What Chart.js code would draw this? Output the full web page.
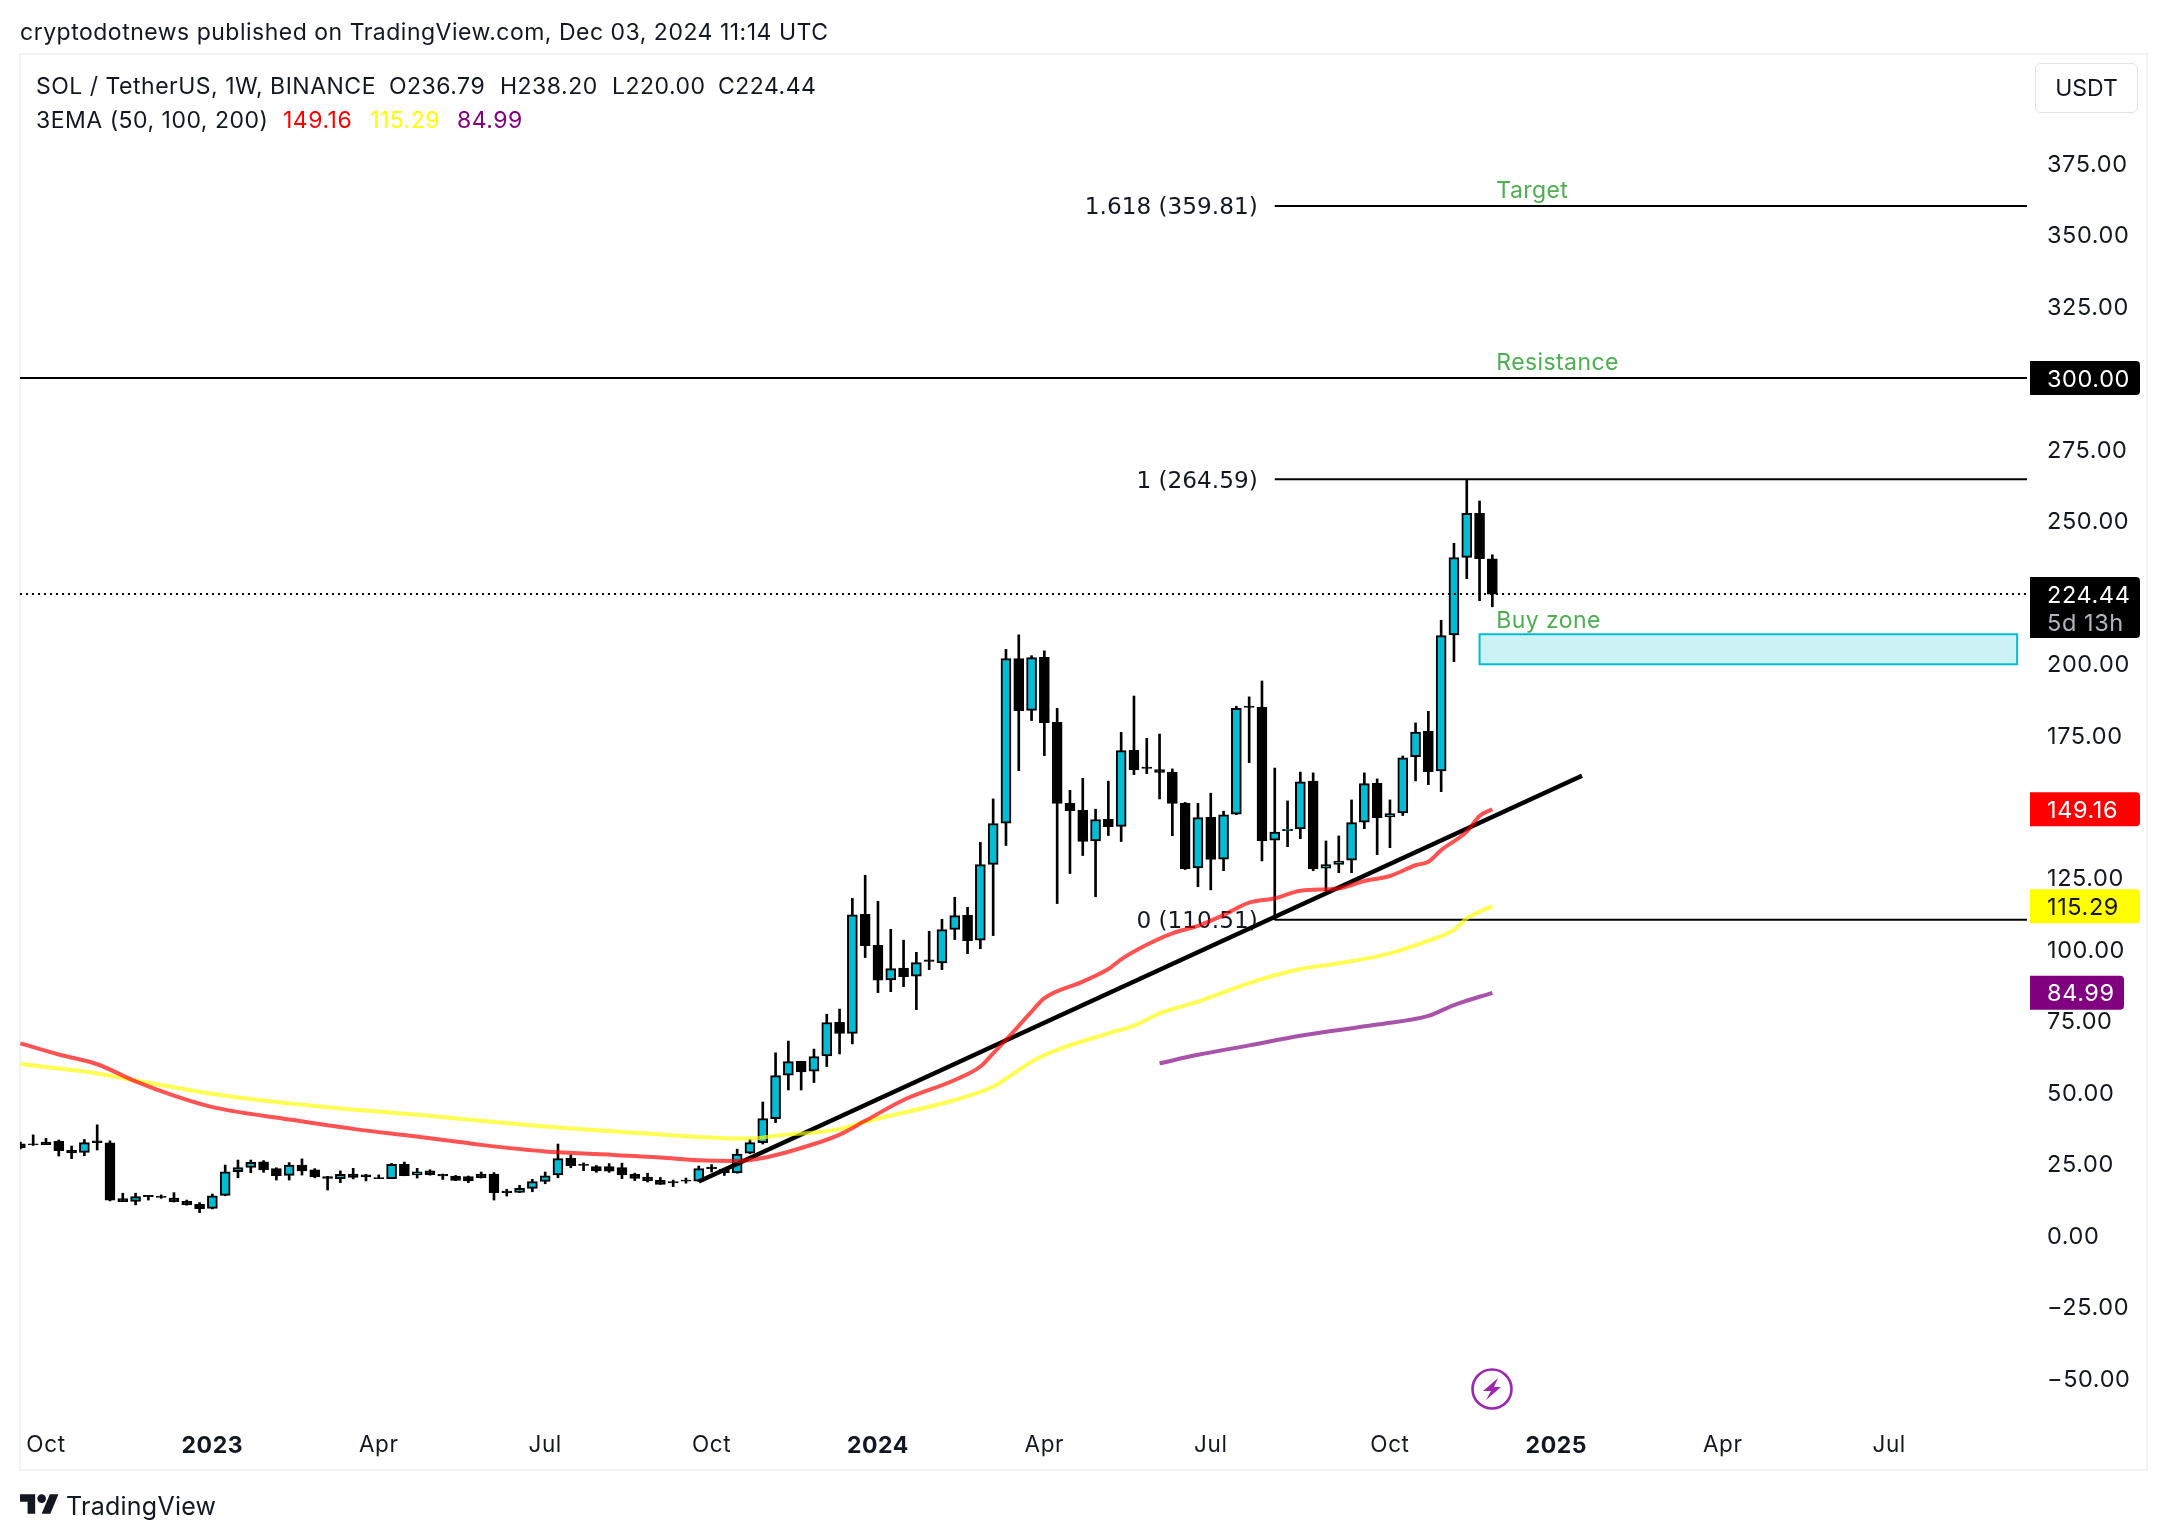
<!DOCTYPE html>
<html>
<head>
<meta charset="utf-8">
<title>SOL / TetherUS</title>
<script src="https://cdn.jsdelivr.net/npm/chart.js@4"></script>
<style>
  html, body { margin: 0; padding: 0; background: #fff; }
  #page { position: relative; width: 2168px; height: 1540px; overflow: hidden; font-family: Inter, sans-serif; color: #131722; }
  canvas { position: absolute; left: 0; top: 0; }
  .txt { position: absolute; font-size: 23px; line-height: 30px; white-space: nowrap; z-index: 2; letter-spacing: 0.5px; }
  #usdt { position: absolute; left: 2035px; top: 63px; width: 103px; height: 50px; border: 1px solid #e0e3eb; border-radius: 6px; box-sizing: border-box; text-align: center; line-height: 48px; font-size: 23px; z-index: 2; }
  svg { position: absolute; z-index: 2; }
</style>
</head>
<body>
<div id="page">
  <canvas id="sol-chart" width="2168" height="1540"></canvas>
  <div class="txt" style="left:20px;top:17px">cryptodotnews published on TradingView.com, Dec 03, 2024 11:14 UTC</div>
  <div class="txt" style="left:36px;top:71px">SOL / TetherUS, 1W, BINANCE</div>
  <div class="txt" style="left:389px;top:71px">O236.79</div>
  <div class="txt" style="left:500px;top:71px">H238.20</div>
  <div class="txt" style="left:612px;top:71px">L220.00</div>
  <div class="txt" style="left:718px;top:71px">C224.44</div>
  <div class="txt" style="left:36px;top:105px">3EMA (50, 100, 200)</div>
  <div class="txt" style="left:283px;top:105px;color:#ff0000">149.16</div>
  <div class="txt" style="left:370px;top:105px;color:#ffff00">115.29</div>
  <div class="txt" style="left:457px;top:105px;color:#800080">84.99</div>
  <div id="usdt">USDT</div>
  <svg style="left:1470px;top:1367px" width="44" height="44" viewBox="-22 -22 44 44">
    <circle cx="0" cy="0" r="19.5" fill="none" stroke="#9c27b0" stroke-width="2.6"/>
    <path d="M6 -11 L-9 2 L-1 2 L-6 11 L9 -2 L2 -2 Z" fill="#9c27b0"/>
  </svg>
  <svg style="left:20px;top:1494px" width="39" height="20" viewBox="0 4 36 18">
    <path d="M14 22H7V11H0V4h14v18zM28 22h-8l7.5-18h8L28 22z" fill="#131722"/>
    <circle cx="20" cy="8" r="4" fill="#131722"/>
  </svg>
  <div class="txt" style="left:66px;top:1491px;font-size:25px;letter-spacing:0.25px">TradingView</div>
</div>
<script>
document.addEventListener("DOMContentLoaded", function() {
  // weekly candles, index 0 = the partly cut one at the left edge
  var candleOpen = [32.2,32.2,32.8,33,29.9,29.2,33.2,32.5,13,12.05,14.15,13.8,13.2,12.05,11,9.6,14.15,22.4,23.9,25.9,23.5,21.15,24.75,23.1,20.7,20,21.6,21.3,20.4,20,25.1,21.3,22.7,21.5,20.9,20.7,21.6,21.6,15.65,15.2,16.6,19,21.3,27.2,25,24.2,24.2,23.85,21.5,20.5,19.4,18.95,19.5,19.1,24,23.3,22,28.9,32.6,41,56.2,61,57.6,62.9,74.7,70.8,112.45,101.6,89.5,93.6,90.8,96.5,95.4,107.2,112.1,103.4,129.9,144.3,201.9,183.8,202.35,179.6,151.3,148.8,138.1,145.7,143.2,169.8,163.9,163.1,162.2,151.25,128.65,146.4,131.7,147.5,185.3,184.85,138.4,141.7,142.3,159,128.6,129.9,131.4,144.7,158.25,146.5,147.9,167.6,176.45,162.6,210.15,237.3,252.7,236.79];
  var candleHigh = [32.8,35.3,34.1,33.5,31.4,33.7,38.8,33.2,14.9,14.9,14.15,14.3,15.1,12.5,11.6,14.6,24.75,26.5,26.5,26.3,23.8,25.6,26.9,23.5,20.8,22.7,23.6,21.5,21.3,25.3,25.8,23.6,23.1,21.6,21.1,20.9,22.3,22.1,16.25,17.65,19.75,22.3,32.1,28.25,25.5,24.6,25.25,25.4,21.9,21.9,20.4,19.5,20.2,24.4,24.9,23.6,30.3,33.8,46.8,64,68.1,61,65.3,77.5,79.3,118,126.1,117,107.2,103.4,99.15,106.5,110.7,118.4,114.9,137.6,152.8,205.1,210.2,202.9,204.6,184.5,155.8,160,149.2,159,176.1,188.8,174,175.5,163.3,151.6,151.25,154.8,148.5,185.2,188.5,194.05,163.6,152.1,162.2,161.9,138.1,139.85,152.45,161.9,159.8,152.45,167.8,179.4,183.45,215.3,242.2,264.59,257,238.2];
  var candleLow = [30.4,31.6,31.9,27.9,27,28,30,12.2,11.9,10.8,12.5,13.1,11.8,10.7,8.1,9.4,14,20.3,22.1,22.2,19.5,19.5,21.25,20.3,16,18.6,19.9,19.2,20,20,21,20.2,21.2,19.7,19.3,18.6,20.2,12.5,13.9,15.1,15.4,18.2,20.3,23.8,22.8,22.2,22.2,20,19.3,18.8,18,17.2,18.4,19,22.3,21.1,21.9,28.7,32.1,39.6,51,51,53.6,59.2,63.6,67.1,97.3,85.05,85.4,87.15,79.1,93.1,93.1,103.6,98.7,100.4,105,136.5,162.7,180.2,167.95,116.2,126.7,133,118.6,140,137.9,161.3,161.65,152.8,139.95,128.1,122.1,121,127.7,147.3,165.5,131.1,110.51,136.1,138.9,127.7,120.7,127,127,142.4,133.3,135.75,147,159.1,157.8,155.35,200.8,229.85,222.15,220];
  var candleClose = [30.7,31.9,31.9,29.8,29,32.6,32.6,12.5,11.9,13.7,13.7,13.45,11.9,10.9,9.5,14,22.4,23.9,25.7,23,21,24.75,22.7,20.7,20.1,21.5,20.4,20.7,20,25,21,22.4,21.4,20.9,19.4,19.2,20.3,15.1,15.1,16.6,19,21,27,24.5,24.6,22.7,22.6,21.3,20.1,19.3,18,18.5,19.1,23.5,23.5,22.1,28.6,32.6,41,56,60.9,57.3,62.7,74.6,70.8,112.3,101.5,89.4,93.45,90.65,95.55,96,107.1,112,103.2,129.8,144.2,201.9,183.7,202.2,179.5,151.2,148.7,137.9,145.6,143.1,169.7,163.05,163.5,162.1,151.25,128.4,146.25,131.6,147.2,184.5,184.85,138.2,141.2,142.2,158.8,128.4,129.8,131.1,144.5,158.15,146.25,147.65,167.2,176.2,162.35,209.9,237.2,252.7,236.85,224.44];

  var ema50Index = [0,3,6,9,12,15,21,26,31,36,41,45,50,53,56,58,62,64,66,69,73,75,76,77,79,80,83,85,86,88,90,92,94,96,98,100,103,105,107,109,110,111,113,114,115];
  var ema50Values = [67.3,63.4,60,54,49,45,40.7,37.4,34.7,31.8,29.5,28.6,27.4,26.4,26.2,27.2,32.1,35.4,40.2,47.5,54.5,59.2,63.8,68.5,78.4,83.1,88.9,93.3,96.7,101.8,105.8,108.4,112.2,116.5,118,120.7,121.5,124.1,125.85,129.6,130.85,134.9,141.35,146.85,149.16];
  var ema100Index = [0,6,9,16,23,31,41,50,55,57,59,64,66,73,76,79,81,85,87,89,92,96,100,103,107,110,112,113,115];
  var ema100Values = [60.1,56.8,54.3,49,45.4,42.3,38.2,35.4,34.1,34,35,37.3,39.9,47.5,52.2,60.9,65,70.8,73.5,77.8,81.9,88.4,93.3,95.3,98.8,103.2,107,111,115.29];
  var ema200Index = [89,92,96,100,106,110,112,115];
  var ema200Values = [60.3,63.3,66.6,70,73.9,76.9,80.7,84.99];

  var trendIndex = [53, 122];
  var trendValues = [19, 160.9];

  // fib / level lines
  var fibLines = [360.2, 264.59, 110.51];
  var fibLabels = ["1.618 (359.81)", "1 (264.59)", "0 (110.51)"];
  var fibStart = 98;
  var resistanceValue = 300;
  var lastPrice = 224.44;
  var buyZone = [114, 156, 199.9, 210.4];
  var noteLabels = ["Target", "Resistance", "Buy zone"];
  var noteValues = [360.2, 300, 209.7];
  var noteIndex = 115;

  // axes
  var priceTicks = [375,350,325,275,250,200,175,125,100,75,50,25,0,-25,-50];
  var timeTicks = [2,15,28,41,54,67,80,93,107,120,133,146];
  var timeLabels = ["Oct","2023","Apr","Jul","Oct","2024","Apr","Jul","Oct","2025","Apr","Jul"];
  var yearLabels = ["2023","2024","2025"];

  var tagValues = [300, 224.44, 149.16, 115.29, 84.99];
  var tagColors = ["#000000", "#000000", "#ff0000", "#ffff00", "#800080"];
  var tagTextColors = ["#ffffff", "#ffffff", "#ffffff", "#131722", "#ffffff"];

  var FONT = "Inter, sans-serif";
  var upColor = "#00bcd4";
  var indexMin = -0.03, indexMax = 156.77;

  function points(xs, ys) {
    return xs.map(function(x, i) { return { x: x, y: ys[i] }; });
  }
  function flatLine(from, to, v) {
    return [{ x: from, y: v }, { x: to, y: v }];
  }
  function lineSet(data, color, width, order, dash) {
    return {
      type: "line", data: data, borderColor: color, borderWidth: width,
      pointRadius: 0, tension: 0, order: order, borderDash: dash || [],
      borderCapStyle: "butt", fill: false
    };
  }
  function emaSet(data, color) {
    var set = lineSet(data, color, 4, 2);
    set.cubicInterpolationMode = "monotone";
    return set;
  }
  function roundRight(ctx, x, y, w, h, r) {
    ctx.beginPath();
    ctx.moveTo(x, y);
    ctx.lineTo(x + w - r, y);
    ctx.quadraticCurveTo(x + w, y, x + w, y + r);
    ctx.lineTo(x + w, y + h - r);
    ctx.quadraticCurveTo(x + w, y + h, x + w - r, y + h);
    ctx.lineTo(x, y + h);
    ctx.closePath();
    ctx.fill();
  }

  var wicks = candleLow.map(function(l, i) { return { x: i, y: [l, candleHigh[i]] }; });
  var bodies = candleOpen.map(function(o, i) { return { x: i, y: [o, candleClose[i]] }; });
  var bodyFill = candleOpen.map(function(o, i) { return candleClose[i] >= o ? upColor : "#000000"; });

  var overlays = {
    id: "overlays",
    beforeDraw: function(chart) {
      var ctx = chart.ctx;
      ctx.save();
      ctx.strokeStyle = "#f0f3fa";
      ctx.lineWidth = 2;
      ctx.strokeRect(20, 54, 2127, 1416);
      ctx.restore();
      // axis labels are tracked a little wider, like the reference
      ctx.letterSpacing = "0.6px";
    },
    beforeDatasetsDraw: function(chart) {
      var ctx = chart.ctx, x = chart.scales.x, y = chart.scales.y;
      ctx.save();
      // buy zone box
      var bx = x.getPixelForValue(buyZone[0]), bx2 = x.getPixelForValue(buyZone[1]);
      var by = y.getPixelForValue(buyZone[3]), by2 = y.getPixelForValue(buyZone[2]);
      ctx.fillStyle = "rgba(0,188,212,0.2)";
      ctx.fillRect(bx, by, bx2 - bx, by2 - by);
      ctx.strokeStyle = upColor;
      ctx.lineWidth = 2;
      ctx.strokeRect(bx, by, bx2 - bx, by2 - by);
      // fib labels, left of the level lines
      ctx.letterSpacing = "0px";
      ctx.font = "23.2px 'DejaVu Sans', sans-serif";
      ctx.fillStyle = "#131722";
      ctx.textAlign = "right";
      ctx.textBaseline = "middle";
      fibLines.forEach(function(v, i) {
        ctx.fillText(fibLabels[i], x.getPixelForValue(fibStart) - 17, y.getPixelForValue(v) + 2.5);
      });
      // green notes above lines
      ctx.letterSpacing = "0.4px";
      ctx.font = "23px " + FONT;
      ctx.fillStyle = "#4caf50";
      ctx.textAlign = "left";
      ctx.textBaseline = "alphabetic";
      noteLabels.forEach(function(t, i) {
        ctx.fillText(t, x.getPixelForValue(noteIndex) + 4, y.getPixelForValue(noteValues[i]) - 8);
      });
      ctx.restore();
    },
    afterDatasetsDraw: function(chart) {
      var ctx = chart.ctx, y = chart.scales.y;
      ctx.save();
      ctx.font = "23.5px " + FONT;
      ctx.letterSpacing = "0.6px";
      ctx.textAlign = "left";
      ctx.textBaseline = "middle";
      tagValues.forEach(function(v, i) {
        var py = y.getPixelForValue(v);
        var text = v.toFixed(2);
        var w = text.length > 5 ? 110 : 94;
        var h = v === lastPrice ? 61 : 34;
        ctx.fillStyle = tagColors[i];
        roundRight(ctx, 2030, py - 17, w, h, 4);
        ctx.fillStyle = tagTextColors[i];
        ctx.fillText(text, 2047, py + 1.5);
        if (v === lastPrice) {
          ctx.fillStyle = "#b2b5be";
          ctx.fillText("5d 13h", 2047, py + 29.5);
        }
      });
      ctx.restore();
    }
  };

  new Chart(document.getElementById("sol-chart").getContext("2d"), {
    type: "bar",
    data: {
      datasets: [
        { data: wicks, backgroundColor: "#000000", barThickness: 2, grouped: false, order: 6 },
        { data: bodies, backgroundColor: bodyFill, borderColor: "#000000", borderWidth: 2, borderSkipped: false, barThickness: 10, grouped: false, order: 5 },
        lineSet(flatLine(indexMin, indexMax, resistanceValue), "#000000", 2, 4),
        lineSet(flatLine(fibStart, indexMax, fibLines[0]), "#000000", 2, 4),
        lineSet(flatLine(fibStart, indexMax, fibLines[1]), "#000000", 2, 4),
        lineSet(flatLine(fibStart, indexMax, fibLines[2]), "#000000", 2, 4),
        lineSet(flatLine(indexMin, indexMax, lastPrice), "#000000", 2, 4, [2, 4]),
        lineSet(points(trendIndex, trendValues), "#000000", 4.5, 3),
        emaSet(points(ema50Index, ema50Values), "rgba(255,0,0,0.68)"),
        emaSet(points(ema100Index, ema100Values), "rgba(255,255,0,0.68)"),
        emaSet(points(ema200Index, ema200Values), "rgba(128,0,128,0.68)")
      ]
    },
    options: {
      responsive: false,
      animation: false,
      events: [],
      layout: { padding: { left: 20, top: 55, right: 21, bottom: 70 } },
      plugins: { legend: { display: false }, tooltip: { enabled: false } },
      scales: {
        x: {
          type: "linear",
          offset: false,
          min: indexMin,
          max: indexMax,
          grid: { display: false, drawTicks: false },
          border: { display: false },
          afterBuildTicks: function(axis) {
            axis.ticks = timeTicks.map(function(v) { return { value: v }; });
          },
          afterFit: function(axis) { axis.height = 58; },
          ticks: {
            autoSkip: false,
            maxRotation: 0,
            padding: 20,
            color: "#131722",
            font: function(c) {
              var label = timeLabels[timeTicks.indexOf(c.tick ? c.tick.value : -1)];
              var isYear = yearLabels.indexOf(label) >= 0;
              return { family: FONT, size: isYear ? 23 : 22.5, weight: isYear ? "700" : "400" };
            },
            callback: function(v) { return timeLabels[timeTicks.indexOf(v)]; }
          }
        },
        y: {
          position: "right",
          min: -61.63,
          max: 413,
          grid: { display: false, drawTicks: false },
          border: { display: false },
          afterBuildTicks: function(axis) {
            axis.ticks = priceTicks.map(function(v) { return { value: v }; });
          },
          afterFit: function(axis) { axis.width = 120; },
          ticks: {
            autoSkip: false,
            padding: 20,
            labelOffset: 1,
            color: "#131722",
            font: { family: FONT, size: 23.5 },
            callback: function(v) { return v.toFixed(2).replace("-", "\u2212"); }
          }
        }
      }
    },
    plugins: [overlays]
  });
});
</script>
</body>
</html>
